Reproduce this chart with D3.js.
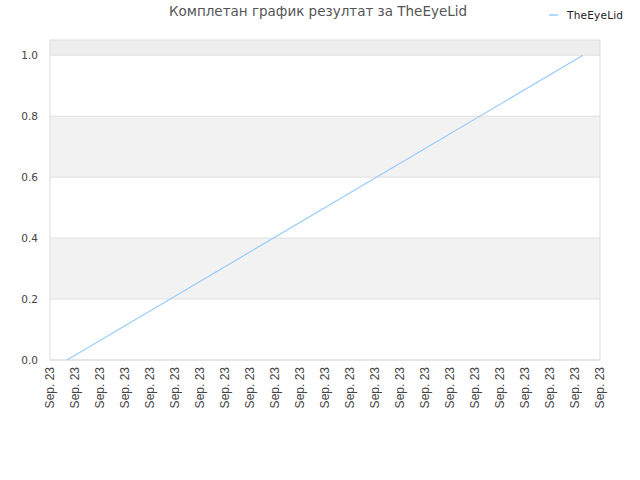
<!DOCTYPE html>
<html>
<head>
<meta charset="utf-8">
<script src="https://d3js.org/d3.v7.min.js"></script>
<style>
  body { margin: 0; background: #fff; }
  text { font-family: "DejaVu Sans", sans-serif; }
</style>
</head>
<body>
<div id="chart"></div>
<script>
// Комплетан график резултат за TheEyeLid
const title = "Комплетан график резултат за TheEyeLid";
const seriesName = "TheEyeLid";

// x axis: hourly ticks, all falling on Sep. 23
const tickHours = d3.range(0, 23);
const tickLabels = tickHours.map(() => "Sep. 23");

// series: hour of day -> result
const pointHours = [0.68, 21.32];
const pointValues = [0, 1];

const yTicks = [0, 0.2, 0.4, 0.6, 0.8, 1.0];
const bandStops = [0, 0.2, 0.4, 0.6, 0.8, 1.0, 1.05];
const bandFills = ["#ffffff", "#f2f2f2", "#ffffff", "#f2f2f2", "#ffffff", "#eeeeee"];

{
    const W = 640, H = 480;
    const margin = { top: 40, right: 40, bottom: 120, left: 50 };
    const width = W - margin.left - margin.right;
    const height = H - margin.top - margin.bottom;

    const svg = d3.select("#chart").append("svg")
        .attr("width", W)
        .attr("height", H);

    const g = svg.append("g")
        .attr("transform", `translate(${margin.left},${margin.top})`);

    const x = d3.scaleLinear().domain([0, 22]).range([0, width]);
    const y = d3.scaleLinear().domain([0, 1.05]).range([height, 0]);

    // alternating bands
    g.selectAll(".band")
        .data(bandFills)
        .join("rect")
        .attr("class", "band")
        .attr("x", 0)
        .attr("width", width)
        .attr("y", (d, i) => y(bandStops[i + 1]))
        .attr("height", (d, i) => y(bandStops[i]) - y(bandStops[i + 1]))
        .attr("fill", d => d);

    // grid lines
    g.selectAll(".grid")
        .data(yTicks)
        .join("line")
        .attr("class", "grid")
        .attr("x1", 0).attr("x2", width)
        .attr("y1", d => y(d)).attr("y2", d => y(d))
        .attr("stroke", "#e0e0e0");

    // frame
    g.append("rect")
        .attr("width", width)
        .attr("height", height)
        .attr("fill", "none")
        .attr("stroke", "#dddddd");

    // y labels
    g.selectAll(".ylab")
        .data(yTicks)
        .join("text")
        .attr("class", "ylab")
        .attr("x", -12)
        .attr("y", d => y(d))
        .attr("dy", "0.35em")
        .attr("text-anchor", "end")
        .attr("font-size", 10.5)
        .attr("fill", "#444")
        .text(d => d.toFixed(1));

    // x labels
    g.selectAll(".xlab")
        .data(tickHours)
        .join("text")
        .attr("class", "xlab")
        .attr("transform", d => `translate(${x(d)},${height + 7}) rotate(-90)`)
        .attr("dy", "0.35em")
        .attr("text-anchor", "end")
        .style("font-family", "'Liberation Sans', Arial, sans-serif")
        .attr("font-size", 12)
        .attr("fill", "#444")
        .text((d, i) => tickLabels[i]);

    // line
    const line = d3.line()
        .x(d => x(d[0]))
        .y(d => y(d[1]));

    g.append("path")
        .datum(d3.zip(pointHours, pointValues))
        .attr("fill", "none")
        .attr("stroke", "#99ccff")
        .attr("stroke-width", 1.2)
        .attr("d", line);

    // title
    svg.append("text")
        .attr("x", 318)
        .attr("y", 16)
        .attr("text-anchor", "middle")
        .attr("font-size", 13.5)
        .attr("fill", "#555")
        .text(title);

    // legend
    const legend = svg.append("g").attr("transform", "translate(549,15)");
    legend.append("line")
        .attr("x1", 0).attr("x2", 9)
        .attr("stroke", "#99ccff")
        .attr("stroke-width", 1.5);
    legend.append("text")
        .attr("x", 18)
        .attr("dy", "0.35em")
        .attr("font-size", 10.5)
        .attr("fill", "#222")
        .attr("textLength", 56)
        .text(seriesName);
}
</script>
</body>
</html>
